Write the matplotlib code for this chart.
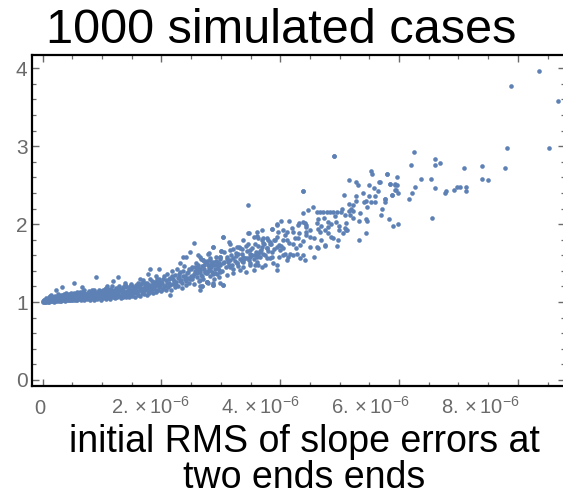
import matplotlib
matplotlib.use("Agg")
import matplotlib.pyplot as plt
import matplotlib.transforms as mtransforms
from matplotlib.ticker import MultipleLocator

plt.rcParams["font.family"] = ["Liberation Sans", "DejaVu Sans"]
plt.rcParams["mathtext.fontset"] = "custom"
plt.rcParams["mathtext.rm"] = "Liberation Sans"
plt.rcParams["mathtext.it"] = "Liberation Sans:italic"

# x in units of 1e-6
# dense band near the start
band_x = [0.00, 0.01, 0.02, 0.03, 0.04, 0.05, 0.06, 0.07, 0.08, 0.09, 0.10, 0.11, 0.12, 0.13, 0.14,
          0.15, 0.16, 0.17, 0.18, 0.19, 0.20, 0.21, 0.22, 0.23, 0.24, 0.25, 0.26, 0.27, 0.28, 0.29,
          0.30, 0.31, 0.32, 0.33, 0.34, 0.35, 0.36, 0.37, 0.38, 0.39, 0.40, 0.41, 0.42, 0.43, 0.44,
          0.45, 0.46, 0.47, 0.48, 0.49, 0.50,
          0.52, 0.53, 0.55, 0.56, 0.58, 0.59, 0.61, 0.62, 0.64, 0.65, 0.67, 0.68, 0.70, 0.71, 0.73,
          0.74, 0.76, 0.77, 0.79, 0.80, 0.82, 0.83, 0.85, 0.86, 0.88, 0.89, 0.91, 0.92, 0.94, 0.95,
          0.97, 0.98, 1.00,
          1.01, 1.03, 1.04, 1.06, 1.07, 1.09, 1.10, 1.12, 1.13, 1.15, 1.16, 1.18, 1.19, 1.21, 1.22,
          1.24, 1.25, 1.27, 1.28, 1.30, 1.31, 1.33, 1.34, 1.36, 1.37, 1.39, 1.40, 1.42, 1.43, 1.45,
          1.46, 1.48, 1.49,
          1.51, 1.52, 1.54, 1.55, 1.57, 1.58, 1.60, 1.61, 1.63, 1.64, 1.66, 1.67, 1.69, 1.70, 1.72,
          1.73, 1.75, 1.76, 1.78, 1.79, 1.81, 1.82, 1.84, 1.85, 1.87, 1.88, 1.90, 1.91, 1.93, 1.94,
          1.96, 1.97, 1.99,
          0.015, 0.035, 0.055, 0.075, 0.095, 0.115, 0.135, 0.155, 0.175, 0.195, 0.215, 0.235, 0.255,
          0.275, 0.295, 0.315, 0.335, 0.355, 0.375, 0.395, 0.415, 0.435, 0.455, 0.475, 0.495, 0.515,
          0.545, 0.575, 0.605, 0.635, 0.665, 0.695, 0.725, 0.755, 0.785, 0.815, 0.845, 0.875, 0.905,
          0.935, 0.965, 0.995, 1.025, 1.055, 1.085, 1.115, 1.145, 1.175, 1.205, 1.235, 1.265, 1.295,
          1.325, 1.355, 1.385, 1.415, 1.445, 1.475, 1.505, 1.535, 1.565, 1.595, 1.625, 1.655, 1.685,
          1.715, 1.745, 1.775, 1.805, 1.835, 1.865, 1.895, 1.925, 1.955, 1.985]
band_y = [1.00, 1.01, 1.00, 1.02, 1.01, 1.03, 1.00, 1.02, 1.04, 1.01, 1.03, 1.00, 1.05, 1.02, 1.01,
          1.04, 1.03, 1.06, 1.01, 1.02, 1.05, 1.03, 1.07, 1.01, 1.04, 1.02, 1.06, 1.03, 1.08, 1.01,
          1.05, 1.03, 1.07, 1.02, 1.04, 1.09, 1.02, 1.06, 1.03, 1.05, 1.08, 1.02, 1.04, 1.07, 1.03,
          1.10, 1.05, 1.02, 1.06, 1.04, 1.08,
          1.03, 1.11, 1.05, 1.02, 1.08, 1.04, 1.12, 1.06, 1.03, 1.09, 1.05, 1.14, 1.02, 1.07, 1.10,
          1.04, 1.06, 1.12, 1.03, 1.08, 1.05, 1.15, 1.07, 1.03, 1.10, 1.05, 1.13, 1.04, 1.08, 1.16,
          1.06, 1.03, 1.11,
          1.05, 1.14, 1.08, 1.04, 1.18, 1.10, 1.06, 1.13, 1.04, 1.09, 1.20, 1.07, 1.12, 1.05, 1.16,
          1.09, 1.06, 1.14, 1.21, 1.08, 1.05, 1.12, 1.17, 1.07, 1.10, 1.22, 1.06, 1.14, 1.09, 1.18,
          1.07, 1.12, 1.23,
          1.08, 1.16, 1.11, 1.06, 1.20, 1.13, 1.09, 1.25, 1.15, 1.08, 1.18, 1.12, 1.28, 1.10, 1.21,
          1.15, 1.09, 1.24, 1.17, 1.12, 1.30, 1.14, 1.20, 1.11, 1.26, 1.17, 1.33, 1.13, 1.22, 1.16,
          1.29, 1.19, 1.14,
          1.02, 1.00, 1.01, 1.03, 1.00, 1.02, 1.04, 1.01, 1.03, 1.00, 1.04, 1.06, 1.01, 1.05, 1.03,
          1.01, 1.06, 1.04, 1.01, 1.07, 1.05, 1.02, 1.06, 1.08, 1.03, 1.06, 1.09, 1.03, 1.07, 1.10,
          1.04, 1.08, 1.06, 1.11, 1.05, 1.09, 1.12, 1.06, 1.08, 1.05, 1.12, 1.07, 1.10, 1.12, 1.06,
          1.15, 1.08, 1.13, 1.10, 1.18, 1.11, 1.15, 1.08, 1.19, 1.13, 1.10, 1.16, 1.20, 1.13, 1.18,
          1.22, 1.14, 1.19, 1.23, 1.16, 1.25, 1.19, 1.14, 1.22, 1.27, 1.18, 1.24, 1.30, 1.21, 1.26]

# extra points filling the band and the rise
fill_x = [1.02, 1.08, 1.14, 1.20, 1.26, 1.32, 1.38, 1.44, 1.50, 1.56, 1.62, 1.68, 1.74, 1.80,
          1.86, 1.92, 1.98, 0.55, 0.62, 0.70, 0.78, 0.86, 0.94, 0.60, 0.72, 0.84, 0.96, 0.40,
          0.30, 0.20, 0.10,
          0.31, 0.36, 0.42, 0.47, 0.51, 0.57, 0.63, 0.69, 0.75, 0.81, 0.87, 0.93, 0.99, 1.05,
          1.11, 1.17, 1.23, 1.29, 1.35, 1.41, 1.47, 1.53, 1.59, 1.65, 1.71, 1.77, 1.83, 1.89,
          1.95, 0.33, 0.44, 0.58, 0.66, 0.79, 0.90, 1.11, 1.22, 1.35, 1.46, 1.58, 1.69, 1.80,
          1.92, 0.06, 0.18, 0.26, 0.12,
          2.03, 2.06, 2.09, 2.12, 2.15, 2.18, 2.21, 2.24, 2.27, 2.30, 2.33, 2.36, 2.39, 2.42,
          2.45, 2.48, 2.50, 2.53, 2.56, 2.59, 2.62, 2.65, 2.68, 2.71, 2.74, 2.77, 2.80, 2.83,
          2.86, 2.89, 2.92, 2.95, 2.98,
          3.02, 3.05, 3.08, 3.11, 3.14, 3.17, 3.20, 3.23, 3.26, 3.29, 3.32, 3.35, 3.38, 3.41,
          3.44, 3.47, 3.50, 3.53, 3.56, 3.59, 3.62, 3.65, 3.68, 3.71, 3.74, 3.77, 3.80, 3.85,
          3.90, 3.95,
          4.02, 4.08, 4.14, 4.20, 4.26, 4.32, 4.38, 4.44, 4.50, 4.56, 4.62, 4.68, 4.74, 4.80,
          4.86, 4.92, 4.98, 5.04, 5.10, 5.16, 5.22, 5.28, 5.34, 5.40, 5.46, 5.60, 5.65, 5.72]
fill_y = [1.16, 1.13, 1.17, 1.14, 1.18, 1.15, 1.19, 1.13, 1.20, 1.17, 1.21, 1.24, 1.20, 1.18,
          1.23, 1.27, 1.22, 1.10, 1.13, 1.11, 1.14, 1.12, 1.10, 1.08, 1.09, 1.07, 1.09, 1.11,
          1.09, 1.08, 1.06,
          1.08, 1.10, 1.09, 1.12, 1.09, 1.13, 1.11, 1.15, 1.09, 1.13, 1.16, 1.11, 1.14, 1.17,
          1.11, 1.15, 1.12, 1.17, 1.14, 1.20, 1.15, 1.13, 1.19, 1.15, 1.18, 1.22, 1.17, 1.20,
          1.25, 1.05, 1.06, 1.07, 1.07, 1.10, 1.09, 1.09, 1.11, 1.11, 1.10, 1.11, 1.13, 1.15,
          1.16, 1.05, 1.07, 1.10, 1.08,
          1.29, 1.20, 1.24, 1.30, 1.22, 1.34, 1.27, 1.22, 1.31, 1.36, 1.28, 1.40, 1.33, 1.27,
          1.38, 1.30, 1.42, 1.33, 1.45, 1.37, 1.48, 1.41, 1.33, 1.47, 1.39, 1.53, 1.44, 1.49,
          1.36, 1.47, 1.53, 1.44, 1.48,
          1.40, 1.52, 1.45, 1.55, 1.48, 1.60, 1.43, 1.53, 1.59, 1.46, 1.55, 1.62, 1.51, 1.57,
          1.66, 1.54, 1.60, 1.70, 1.55, 1.64, 1.72, 1.58, 1.67, 1.76, 1.61, 1.70, 1.65, 1.74,
          1.68, 1.84,
          1.72, 1.86, 1.76, 1.95, 1.70, 1.88, 1.78, 1.96, 1.92, 1.82, 2.02, 1.80, 2.08, 1.96,
          1.84, 2.10, 1.98, 2.20, 2.02, 2.26, 2.08, 2.36, 2.14, 2.40, 2.22, 2.36, 2.42, 2.20]

# rising part, 2 to 3
rise_x = [2.01, 2.02, 2.04, 2.05, 2.07, 2.08, 2.10, 2.11, 2.13, 2.14, 2.16, 2.17, 2.19, 2.20, 2.22,
          2.23, 2.25, 2.26, 2.28, 2.29, 2.31, 2.32, 2.34, 2.35, 2.37, 2.38, 2.40, 2.41, 2.43, 2.44,
          2.46, 2.47, 2.49,
          2.51, 2.52, 2.54, 2.55, 2.57, 2.58, 2.60, 2.61, 2.63, 2.64, 2.66, 2.67, 2.69, 2.70, 2.72,
          2.73, 2.75, 2.76, 2.78, 2.79, 2.81, 2.82, 2.84, 2.85, 2.87, 2.88, 2.90, 2.91, 2.93, 2.94,
          2.96, 2.97, 2.99]
rise_y = [1.24, 1.17, 1.33, 1.21, 1.15, 1.28, 1.36, 1.19, 1.25, 1.31, 1.16, 1.40, 1.23, 1.29, 1.19,
          1.35, 1.26, 1.43, 1.21, 1.32, 1.27, 1.38, 1.18, 1.24, 1.34, 1.46, 1.29, 1.22, 1.37, 1.31,
          1.42, 1.25, 1.34,
          1.29, 1.45, 1.36, 1.23, 1.40, 1.50, 1.32, 1.44, 1.27, 1.38, 1.55, 1.35, 1.46, 1.30, 1.42,
          1.51, 1.37, 1.26, 1.48, 1.40, 1.56, 1.33, 1.45, 1.39, 1.52, 1.30, 1.43, 1.58, 1.47, 1.36,
          1.50, 1.41, 1.55]

# scattered points around the band
outl_x = [0.14, 0.22, 0.32, 0.52, 0.66, 0.90, 1.08, 1.18, 1.26, 1.39, 1.64, 1.78, 1.81, 1.96,
          2.14, 2.64, 2.86, 2.97, 2.54, 3.03, 2.87, 2.48, 2.42, 2.80, 2.70, 2.31, 2.62, 2.79,
          2.98, 2.37, 3.01, 2.65, 2.79, 2.98, 2.68, 2.76, 2.87, 3.03]
outl_y = [1.09, 1.15, 1.19, 1.24, 1.19, 1.32, 1.20, 1.27, 1.32, 1.25, 1.29, 1.36, 1.42, 1.43,
          1.09, 1.16, 1.24, 1.32, 1.76, 1.83, 1.71, 1.64, 1.58, 1.63, 1.54, 1.50, 1.60, 1.62,
          1.58, 1.58, 1.66, 1.20, 1.24, 1.24, 1.20, 1.26, 1.22, 1.22]

# middle part, 3 to 6
mid_x = [4.91, 5.52, 5.54, 5.80, 5.15, 5.28, 5.30, 5.49, 5.57, 5.67, 5.85, 5.93, 5.95, 4.39, 5.07,
         5.49, 5.88, 5.28, 5.41, 5.45, 5.52, 5.59, 5.76, 5.77, 5.22, 5.19, 3.45, 4.55, 4.47,
         4.61, 4.67, 4.72, 4.78, 4.84, 4.88, 4.96, 5.03, 5.09, 5.17, 5.15, 5.23, 5.70,
         5.32, 5.45, 5.46, 5.83, 5.90, 4.39, 4.29, 4.31, 4.39, 4.42, 4.44, 4.02, 4.15, 3.94,
         4.63, 4.69, 4.81, 4.85, 4.93, 3.86, 3.69, 3.60, 3.47, 3.96, 4.05, 4.12, 4.21,
         4.43, 4.44, 4.50, 4.64, 4.67, 4.75, 4.81, 4.98, 5.06, 5.09, 5.12, 4.89, 4.97, 5.45, 5.33,
         3.03, 3.14, 3.38, 3.55, 3.63, 3.69, 3.77, 3.83, 3.89, 4.04, 4.12, 4.25, 4.30,
         4.33, 4.50, 4.61, 4.75, 4.95, 5.10, 3.27, 3.43, 3.57, 3.70, 3.83, 3.94, 4.05, 4.22,
         3.15, 3.32, 3.49, 3.66, 3.77, 3.86, 4.00, 4.08, 4.16, 4.28, 4.64, 4.75, 4.39, 4.56,
         2.87, 2.98, 3.10, 3.21, 3.38, 3.49, 3.57, 3.63, 3.77, 3.86, 3.97, 4.05, 4.13, 4.22, 4.33,
         4.42, 3.94, 3.94, 4.11, 2.65, 2.70, 2.76, 2.85, 2.93, 3.04, 3.15,
         3.27, 3.38, 3.49, 3.55, 3.63, 3.69, 2.65, 2.73, 2.82, 2.90, 2.98, 3.10, 3.21, 3.32, 3.43,
         2.65, 2.76, 2.68, 2.87, 3.03,
         3.94, 3.86, 3.46, 3.60, 3.71, 3.80, 3.91, 3.97, 3.15, 3.31, 3.46, 3.01, 3.21,
         3.49, 3.60, 3.71, 3.83, 2.82, 2.93, 3.15, 3.27, 3.38, 3.49, 3.60, 3.74, 3.88,
         2.59, 2.76, 3.12, 3.25, 3.35, 3.52, 3.66, 3.35, 3.58, 3.72, 3.28, 3.44, 3.18, 3.06,
         6.56, 5.98, 4.38, 4.90]
mid_y = [2.88, 2.68, 2.64, 2.64, 2.56, 2.54, 2.50, 2.50, 2.46, 2.54, 2.52, 2.50, 2.44, 2.42, 2.38,
         2.36, 2.38, 2.30, 2.28, 2.30, 2.28, 2.28, 2.28, 2.32, 2.24, 2.20, 2.24, 2.22, 2.18,
         2.15, 2.15, 2.15, 2.15, 2.15, 2.15, 2.15, 2.15, 2.12, 2.12, 2.17, 2.17, 2.12,
         2.04, 2.06, 2.04, 2.06, 1.98, 2.14, 1.99, 2.01, 2.03, 2.01, 1.99, 2.04, 2.04, 1.99,
         2.06, 1.97, 2.03, 2.00, 2.03, 1.94, 1.92, 1.90, 1.88, 1.90, 1.92, 1.90, 1.90,
         1.90, 1.86, 1.84, 1.94, 1.90, 1.92, 1.88, 1.92, 1.88, 1.95, 1.92, 1.82, 1.79, 1.88, 1.79,
         1.83, 1.77, 1.80, 1.83, 1.82, 1.79, 1.82, 1.77, 1.79, 1.80, 1.80, 1.82, 1.82,
         1.73, 1.71, 1.71, 1.72, 1.72, 1.92, 1.71, 1.72, 1.75, 1.71, 1.75, 1.71, 1.69, 1.75,
         1.67, 1.69, 1.67, 1.64, 1.69, 1.64, 1.67, 1.62, 1.62, 1.62, 1.69, 1.73, 1.60, 1.58,
         1.71, 1.58, 1.58, 1.56, 1.58, 1.58, 1.60, 1.62, 1.56, 1.58, 1.58, 1.60, 1.58, 1.60, 1.56,
         1.54, 1.47, 1.41, 1.54, 1.58, 1.54, 1.52, 1.50, 1.47, 1.50, 1.45,
         1.50, 1.45, 1.47, 1.41, 1.47, 1.45, 1.43, 1.39, 1.41, 1.37, 1.39, 1.35, 1.37, 1.41, 1.39,
         1.28, 1.26, 1.20, 1.22, 1.22,
         2.00, 1.94, 1.88, 1.85, 1.82, 1.79, 1.79, 1.73, 1.75, 1.71, 1.75, 1.66, 1.68,
         1.62, 1.58, 1.62, 1.56, 1.54, 1.52, 1.54, 1.50, 1.54, 1.50, 1.52, 1.47, 1.50,
         1.41, 1.37, 1.52, 1.63, 1.68, 1.60, 1.65, 1.53, 1.48, 1.74, 1.62, 1.56, 1.48, 1.64,
         2.08, 2.00, 2.42, 2.87]

# sparse tail
tail_x = [8.36, 7.89, 8.67, 7.81, 8.52, 6.25, 6.61, 6.61, 6.69, 6.20, 7.10, 7.39, 7.78, 5.80,
          5.96, 6.37, 6.53, 7.39, 7.50, 5.68, 5.85, 5.93, 5.96, 6.27, 6.61, 6.98, 7.03, 7.13,
          6.92, 7.13, 6.79, 6.77, 5.93, 5.98, 5.88, 6.22, 5.77, 6.17]
tail_y = [3.97, 3.77, 3.58, 2.98, 2.98, 2.92, 2.84, 2.76, 2.78, 2.76, 2.72, 2.74, 2.72, 2.64,
          2.60, 2.58, 2.58, 2.58, 2.56, 2.54, 2.52, 2.52, 2.50, 2.48, 2.46, 2.48, 2.48, 2.48,
          2.44, 2.42, 2.42, 2.40, 2.44, 2.40, 2.38, 2.40, 2.32, 2.32]

x_ticks = [0, 2, 4, 6, 8]
x_tick_labels = ["$0$", r"$2.\times10^{-6}$", r"$4.\times10^{-6}$",
                 r"$6.\times10^{-6}$", r"$8.\times10^{-6}$"]
y_ticks = [0, 1, 2, 3, 4]

point_color = "#5E81B5"
tick_gray = "#6a6a6a"

fig = plt.figure(figsize=(5.63, 4.96), dpi=100)
ax = fig.add_axes([0.0563, 0.2218, 0.948, 0.6673])

groups = [(band_x, band_y), (fill_x, fill_y), (rise_x, rise_y),
          (outl_x, outl_y), (mid_x, mid_y), (tail_x, tail_y)]
for xs, ys in groups:
    ax.scatter(xs, ys, s=11, color=point_color, linewidths=0, zorder=3)

ax.set_xlim(-0.185, 8.8)
ax.set_ylim(-0.077, 4.17)

ax.set_xticks(x_ticks)
ax.set_xticklabels(x_tick_labels)
ax.set_yticks(y_ticks)
ax.xaxis.set_minor_locator(MultipleLocator(0.5))
ax.yaxis.set_minor_locator(MultipleLocator(0.2))

for side in ax.spines.values():
    side.set_linewidth(1.6)
    side.set_color("black")

ax.tick_params(which="both", direction="in", top=True, right=True, color=tick_gray)
ax.tick_params(which="major", length=5, width=1.0)
ax.tick_params(which="minor", length=3, width=0.9)
ax.tick_params(axis="both", labelcolor=tick_gray)
ax.tick_params(axis="y", pad=3, labelsize=15)
ax.tick_params(axis="x", pad=20, labelsize=14.5)

# Tick labels sit a little left of their ticks in the reference
for i, lab in enumerate(ax.get_xticklabels()):
    lab.set_verticalalignment("baseline")
    shift = mtransforms.ScaledTranslation((-2.7 - 8.8 * i) / 100, 0, fig.dpi_scale_trans)
    lab.set_transform(lab.get_transform() + shift)

fig.text(0.5, 1 - 43 / 496, "1000 simulated cases", ha="center", va="baseline",
         fontsize=35, color="black")
fig.text(0.54, 1 - 452 / 496, "initial RMS of slope errors at", ha="center", va="baseline",
         fontsize=27, color="black")
fig.text(0.54, 1 - 488 / 496, "two ends ends", ha="center", va="baseline",
         fontsize=27, color="black")

fig.savefig("out.png", dpi=100)
